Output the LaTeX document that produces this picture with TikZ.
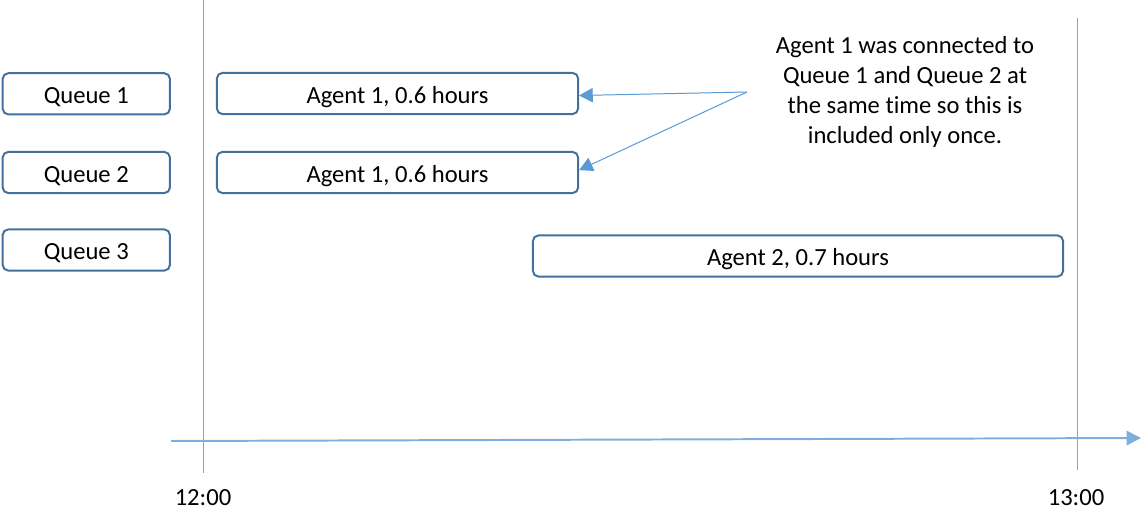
\documentclass[tikz,border=0pt]{standalone}
\usepackage{fontspec}
\setmainfont{Carlito}[Ligatures=NoCommon]
\usetikzlibrary{arrows.meta}
\definecolor{boxline}{HTML}{41719C}
\definecolor{arrowblue}{HTML}{5B9BD5}
\begin{document}
\begin{tikzpicture}[x=0.025cm, y=-0.025cm, >={Triangle[length=0.34cm, width=0.36cm]}]
                \tikzset{slot/.style={draw=boxline, line width=1.4pt, rounded corners=4pt, fill=white, minimum height=1.03cm, inner sep=0pt, text height=14.2pt, text depth=0pt, font=\fontsize{17.5}{21}\selectfont}};
                \tikzset{pointer/.style={->, draw=arrowblue, fill=arrowblue, line width=0.7pt}};
                \useasboundingbox (0, 0) rectangle (1142, 510);
                % time lines
                \coordinate (t12top) at (203, 0);
                \coordinate (t12bot) at (203, 473);
                \coordinate (t13top) at (1077, 18);
                \coordinate (t13bot) at (1077, 470);
                \draw[arrowblue!85, line width=0.65pt] (t12top) -- (t12bot);
                \draw[arrowblue!85, line width=0.65pt] (t13top) -- (t13bot);
                \coordinate (axstart) at (171, 441);
                \coordinate (axend) at (1141, 438);
                \draw[pointer, line width=1.4pt, draw=arrowblue!80, >={Triangle[length=0.36cm, width=0.36cm]}] (axstart) -- (axend);
                \node[font=\fontsize{17.5}{21}\selectfont] (t12) at (203, 498) {12:00};
                \node[font=\fontsize{17.5}{21}\selectfont] (t13) at (1076, 498) {13:00};
                % queues
                \node[slot, minimum width=4.18cm] (q1) at (86.3, 93.8) {Queue 1};
                \node[slot, minimum width=4.18cm] (q2) at (86.3, 172.5) {Queue 2};
                \node[slot, minimum width=4.18cm] (q3) at (86.3, 250) {Queue 3};
                % agents
                \node[slot, minimum width=9.03cm] (a1q1) at (397.5, 93.5) {Agent 1, 0.6 hours};
                \node[slot, minimum width=9.03cm] (a1q2) at (397.5, 172.5) {Agent 1, 0.6 hours};
                \node[slot, minimum width=13.25cm] (a2q3) at (798, 256) {Agent 2, 0.7 hours};
                % note
                \node[align=center, font=\fontsize{17.5}{21.2}\selectfont] (note) at (905, 92) {Agent 1 was connected to\\Queue 1 and Queue 2 at\\the same time so this is\\included only once.};
                \coordinate (fork) at (747, 92);
                \draw[pointer] (fork) -- ([yshift=-0.05cm]a1q1.east);
                \draw[pointer] (fork) -- ([yshift=0.06cm]a1q2.east);
            \end{tikzpicture}
\end{document}
